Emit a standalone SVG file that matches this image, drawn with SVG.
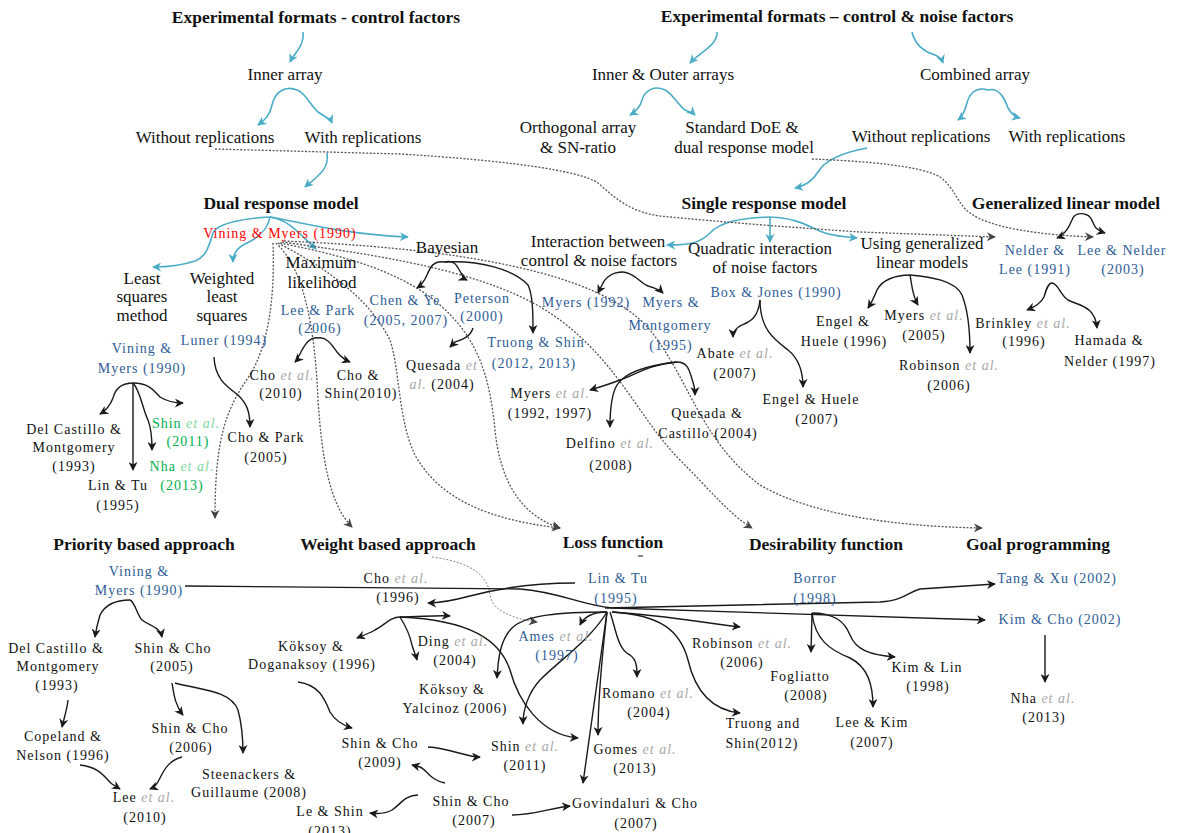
<svg xmlns="http://www.w3.org/2000/svg" width="1177" height="833" viewBox="0 0 1177 833">
<style>
text{font-family:"Liberation Serif","Times New Roman",serif;text-anchor:middle;fill:#111}
.h{font-weight:bold;font-size:17.5px}
.t{font-size:17px}
.c{font-size:14px;letter-spacing:1px}
.b{fill:#2E5C96}
.g{fill:#00B050}
.r{fill:#FF0000}
.e{fill:#A8A8A8;font-style:italic}
.eg{fill:#7FD8A0;font-style:italic}
.cy{stroke:#4BACC6;stroke-width:1.6;fill:none;marker-end:url(#ac)}
.bk{stroke:#1a1a1a;stroke-width:1.4;fill:none;marker-end:url(#ab)}
.dt{stroke:#555;stroke-width:1.3;stroke-dasharray:2 1.6;fill:none;marker-end:url(#ad)}
.dl{stroke:#888;stroke-width:1;stroke-dasharray:2 1.6;fill:none;marker-end:url(#ad)}
</style>
<defs>
<marker id="ac" viewBox="0 0 10 10" refX="9" refY="5" markerWidth="9" markerHeight="9" orient="auto" markerUnits="userSpaceOnUse"><path d="M0,0 L10,5 L0,10 L3,5 z" fill="#4BACC6"/></marker>
<marker id="ab" viewBox="0 0 10 10" refX="9" refY="5" markerWidth="9" markerHeight="9" orient="auto" markerUnits="userSpaceOnUse"><path d="M0,0 L10,5 L0,10 L3,5 z" fill="#1a1a1a"/></marker>
<marker id="ad" viewBox="0 0 10 10" refX="9" refY="5" markerWidth="9" markerHeight="9" orient="auto" markerUnits="userSpaceOnUse"><path d="M0,0 L10,5 L0,10 L3,5 z" fill="#444"/></marker>
</defs>
<rect width="1177" height="833" fill="#fff"/>

<g id="connectors">
<!-- cyan -->
<path class="cy" d="M303,32 C305,45 295,52 290,62"/>
<path class="cy" d="M297,90 C285,85 275,92 272,105 C270,115 265,120 258,125"/>
<path class="cy" d="M297,90 C305,92 310,105 318,112 C325,117 330,118 332,123"/>
<path class="cy" d="M327,153 C330,170 315,178 305,187"/>
<path class="cy" d="M717,32 C718,45 700,52 690,63"/>
<path class="cy" d="M665,90 C655,85 645,90 642,100 C640,108 635,112 630,115"/>
<path class="cy" d="M665,90 C672,93 678,105 685,110 C690,112 693,113 695,115"/>
<path class="cy" d="M912,32 C915,45 925,52 935,55 C940,57 942,60 943,63"/>
<path class="cy" d="M988,90 C975,86 969,95 967,103 C965,111 962,117 958,120"/>
<path class="cy" d="M988,90 C1000,87 1005,100 1008,108 C1012,115 1016,117 1020,118"/>
<path class="cy" d="M867,148 C845,152 825,160 818,172 C812,182 805,186 795,188"/>
<path class="cy" d="M270,217 C250,218 218,222 213,233 C208,250 205,257 195,261 C180,266 165,267 153,267"/>
<path class="cy" d="M270,217 C268,230 258,238 245,244 C237,248 233,255 233,262"/>
<path class="cy" d="M270,217 C290,220 300,235 316,249"/>
<path class="cy" d="M270,217 C300,222 340,234 408,237"/>
<path class="cy" d="M770,217 C740,218 720,222 710,233 C700,243 690,245 667,245"/>
<path class="cy" d="M770,217 L770,242"/>
<path class="cy" d="M770,217 C800,218 810,228 825,233 C835,236 845,237 857,238"/>
<!-- dotted -->
<path class="dt" d="M215,149 L400,154 C500,160 580,170 598,183 C615,198 630,212 660,216 C720,222 800,228 860,232 L995,237"/>
<path class="dt" d="M812,159 C860,161 920,165 940,177 C955,188 958,205 970,213 C990,228 1040,235 1093,237"/>
<path class="dt" d="M273,243 C275,300 268,345 250,375 C225,410 215,440 215,518"/>
<path class="dt" d="M276,243 C305,270 315,330 318,400 C322,460 330,505 352,527"/>
<path class="dt" d="M280,243 C340,255 400,270 440,305 C480,340 490,380 495,430 C500,480 520,515 560,528"/>
<path class="dt" d="M278,243 C330,270 370,300 390,340 C400,370 398,420 415,455 C440,500 490,520 560,528"/>
<path class="dt" d="M282,242 C400,258 500,275 560,320 C620,365 640,420 680,460 C710,490 730,515 752,528"/>
<path class="dt" d="M284,241 C450,248 600,270 650,330 C690,380 700,440 760,485 C820,520 920,527 982,528"/>
<path class="dl" d="M432,557 C470,562 488,575 490,595 C492,610 510,618 537,622"/>
<!-- black -->
<path class="bk" d="M1087,215 C1080,212 1074,214 1072,220 C1068,230 1062,236 1057,238"/>
<path class="bk" d="M1087,215 C1092,216 1093,225 1096,228 C1099,231 1102,232 1105,233"/>
<path class="bk" d="M1052,283 C1048,283 1046,290 1044,297 C1040,305 1032,308 1027,310"/>
<path class="bk" d="M1052,283 C1058,283 1060,295 1068,300 C1080,306 1095,306 1097,328"/>
<path class="bk" d="M910,275 C895,275 882,280 877,290 C873,300 870,305 868,308"/>
<path class="bk" d="M910,275 C912,285 912,295 918,305"/>
<path class="bk" d="M910,275 C930,277 955,280 962,295 C968,310 970,330 970,353"/>
<path class="bk" d="M623,272 C612,272 605,278 602,285 L598,293"/>
<path class="bk" d="M623,272 C635,273 640,283 648,286 C655,288 660,290 663,293"/>
<path class="bk" d="M760,300 C758,320 748,322 740,326 C735,329 733,333 733,337"/>
<path class="bk" d="M760,300 C760,330 775,340 788,350 C798,358 803,370 803,387"/>
<path class="bk" d="M677,362 C650,364 635,375 620,380 C610,384 600,387 590,390"/>
<path class="bk" d="M677,362 C650,365 625,372 617,385 C611,395 610,410 610,427"/>
<path class="bk" d="M677,362 C690,362 690,375 693,382 C695,388 695,392 695,395"/>
<path class="bk" d="M445,262 C433,260 430,268 427,275 C424,282 420,286 417,288"/>
<path class="bk" d="M445,262 C455,259 458,268 461,273 C463,277 465,279 467,280"/>
<path class="bk" d="M445,262 C480,260 515,270 528,285 C533,295 533,315 533,333"/>
<path class="bk" d="M473,328 C470,338 460,340 455,342 L450,347"/>
<path class="bk" d="M318,338 C310,336 305,345 302,350 C299,356 297,360 295,362"/>
<path class="bk" d="M318,338 C326,336 332,345 337,352 C341,357 345,360 350,362"/>
<path class="bk" d="M214,357 C215,380 228,387 238,395 C246,403 250,410 250,427"/>
<path class="bk" d="M133,383 C120,383 115,390 113,398 C110,406 105,411 100,414"/>
<path class="bk" d="M133,383 L133,470"/>
<path class="bk" d="M133,383 C140,390 143,410 148,420 C152,430 152,440 152,450"/>
<path class="bk" d="M133,383 C150,383 155,392 160,397 C168,402 175,403 183,403"/>
<path class="bk" d="M130,600 C115,600 105,605 100,615 C97,625 96,630 95,637"/>
<path class="bk" d="M130,600 C135,602 137,615 142,620 C150,626 160,627 162,637"/>
<path class="bk" d="M68,700 C67,710 64,718 62,727"/>
<path class="bk" d="M172,683 C174,695 175,705 183,715"/>
<path class="bk" d="M175,683 C200,690 230,690 238,710 C242,725 243,740 243,753"/>
<path class="bk" d="M80,765 C100,767 105,778 112,784 L120,789"/>
<path class="bk" d="M182,757 C170,760 165,768 160,778 C157,784 155,787 150,789"/>
<path class="bk" d="M185,586 L520,589 C560,592 580,605 612,608 L985,620"/>
<path class="bk" d="M605,608 L880,602 C905,600 908,592 920,589 L995,584"/>
<path class="bk" d="M575,583 C540,583 500,588 470,596 C455,600 440,603 428,603"/>
<path class="bk" d="M400,617 C390,617 385,625 375,630 C368,634 362,636 357,638"/>
<path class="bk" d="M400,617 C405,625 410,635 412,645 C414,652 416,656 417,660"/>
<path class="bk" d="M400,617 C420,617 437,615 450,616"/>
<path class="bk" d="M400,617 C470,620 500,640 510,670 C518,700 540,735 578,738"/>
<path class="bk" d="M607,612 C590,640 560,660 540,680 C528,693 523,710 523,724"/>
<path class="bk" d="M607,612 C595,612 585,615 580,625"/>
<path class="bk" d="M607,612 C560,612 525,615 512,628 C500,640 498,660 497,678"/>
<path class="bk" d="M607,612 L583,783"/>
<path class="bk" d="M607,612 C603,650 598,690 598,735"/>
<path class="bk" d="M610,612 C616,630 618,650 630,655 C637,660 637,668 637,677"/>
<path class="bk" d="M612,612 C660,615 700,622 740,627"/>
<path class="bk" d="M612,612 C660,615 680,630 688,660 C695,690 710,710 740,713"/>
<path class="bk" d="M812,613 L811,652"/>
<path class="bk" d="M812,613 C835,613 845,622 850,635 C856,650 870,655 895,657"/>
<path class="bk" d="M812,613 C815,640 830,650 850,658 C868,667 873,685 873,707"/>
<path class="bk" d="M1045,635 L1045,682"/>
<path class="bk" d="M298,682 C320,685 325,700 330,712 C336,722 345,726 352,728"/>
<path class="bk" d="M428,747 C450,748 465,757 480,757"/>
<path class="bk" d="M445,783 C430,780 427,770 420,767 L412,765"/>
<path class="bk" d="M418,795 C405,795 400,805 392,810 C385,814 378,814 370,813"/>
<path class="bk" d="M512,815 C535,815 550,808 570,806"/>
<line x1="638" y1="556" x2="643" y2="556" stroke="#333" stroke-width="1.2"/>
</g>

<g id="n-top-control"><text class="h" x="316" y="23">Experimental formats - control factors</text></g>
<g id="n-top-noise"><text class="h" x="837" y="22">Experimental formats – control &amp; noise factors</text></g>
<g id="n-inner"><text class="t" x="285" y="80">Inner array</text></g>
<g id="n-wo1"><text class="t" x="205" y="143">Without replications</text></g>
<g id="n-w1"><text class="t" x="363" y="143">With replications</text></g>
<g id="n-io"><text class="t" x="663" y="80">Inner &amp; Outer arrays</text></g>
<g id="n-ortho"><text class="t" x="578" y="133">Orthogonal array</text><text class="t" x="578" y="153">&amp; SN-ratio</text></g>
<g id="n-std"><text class="t" x="742" y="133">Standard DoE &amp;</text><text class="t" x="744" y="153">dual response model</text></g>
<g id="n-comb"><text class="t" x="975" y="80">Combined array</text></g>
<g id="n-wo2"><text class="t" x="921" y="142">Without replications</text></g>
<g id="n-w2"><text class="t" x="1067" y="142">With replications</text></g>
<g id="n-drm"><text class="h" x="281" y="209">Dual response model</text></g>
<g id="n-srm"><text class="h" x="764" y="209">Single response model</text></g>
<g id="n-glm"><text class="h" x="1066" y="209">Generalized linear model</text></g>
<g id="n-vm-red"><text class="c r" x="280" y="238">Vining &amp; Myers (1990)</text></g>
<g id="n-ls"><text class="t" x="142" y="284">Least</text><text class="t" x="142" y="302">squares</text><text class="t" x="142" y="321">method</text></g>
<g id="n-wls"><text class="t" x="222" y="284">Weighted</text><text class="t" x="222" y="302">least</text><text class="t" x="222" y="321">squares</text></g>
<g id="n-ml"><text class="t" x="321" y="268">Maximum</text><text class="t" x="322" y="288">likelihood</text></g>
<g id="n-bay"><text class="t" x="447" y="253">Bayesian</text></g>
<g id="n-int"><text class="t" x="598" y="247">Interaction between</text><text class="t" x="599" y="266">control &amp; noise factors</text></g>
<g id="n-quad"><text class="t" x="760" y="254">Quadratic interaction</text><text class="t" x="765" y="273">of noise factors</text></g>
<g id="n-ugl"><text class="t" x="922" y="249">Using generalized</text><text class="t" x="922" y="268">linear models</text></g>

<g id="n-vm1"><text class="c b" x="142" y="353">Vining &amp;</text><text class="c b" x="142" y="373">Myers (1990)</text></g>
<g id="n-luner"><text class="c b" x="224" y="345">Luner (1994)</text></g>
<g id="n-lp"><text class="c b" x="318" y="315">Lee &amp; Park</text><text class="c b" x="320" y="333">(2006)</text></g>
<g id="n-chen"><text class="c b" x="405" y="305">Chen &amp; Ye</text><text class="c b" x="406" y="325">(2005, 2007)</text></g>
<g id="n-pet"><text class="c b" x="482" y="303">Peterson</text><text class="c b" x="482" y="321">(2000)</text></g>
<g id="n-ques"><text class="c" x="442" y="370">Quesada <tspan class="e">et</tspan></text><text class="c" x="442" y="389"><tspan class="e">al.</tspan> (2004)</text></g>
<g id="n-truong"><text class="c b" x="536" y="347">Truong &amp; Shin</text><text class="c b" x="534" y="368">(2012, 2013)</text></g>
<g id="n-my92"><text class="c b" x="586" y="307">Myers (1992)</text></g>
<g id="n-mm"><text class="c b" x="671" y="307">Myers &amp;</text><text class="c b" x="670" y="330">Montgomery</text><text class="c b" x="671" y="350">(1995)</text></g>
<g id="n-box"><text class="c b" x="776" y="297">Box &amp; Jones (1990)</text></g>
<g id="n-abate"><text class="c" x="735" y="358">Abate <tspan class="e">et al.</tspan></text><text class="c" x="735" y="378">(2007)</text></g>
<g id="n-myetal"><text class="c" x="550" y="398">Myers <tspan class="e">et al.</tspan></text><text class="c" x="550" y="418">(1992, 1997)</text></g>
<g id="n-delfino"><text class="c" x="610" y="448">Delfino <tspan class="e">et al.</tspan></text><text class="c" x="611" y="470">(2008)</text></g>
<g id="n-qc"><text class="c" x="707" y="418">Quesada &amp;</text><text class="c" x="708" y="438">Castillo (2004)</text></g>
<g id="n-eh07"><text class="c" x="811" y="404">Engel &amp; Huele</text><text class="c" x="817" y="424">(2007)</text></g>
<g id="n-eh96"><text class="c" x="843" y="326">Engel &amp;</text><text class="c" x="844" y="346">Huele (1996)</text></g>
<g id="n-my05"><text class="c" x="924" y="320">Myers <tspan class="e">et al.</tspan></text><text class="c" x="924" y="340">(2005)</text></g>
<g id="n-rob06"><text class="c" x="949" y="370">Robinson <tspan class="e">et al.</tspan></text><text class="c" x="949" y="390">(2006)</text></g>
<g id="n-nl"><text class="c b" x="1035" y="255">Nelder &amp;</text><text class="c b" x="1035" y="274">Lee (1991)</text></g>
<g id="n-ln"><text class="c b" x="1122" y="255">Lee &amp; Nelder</text><text class="c b" x="1123" y="274">(2003)</text></g>
<g id="n-brink"><text class="c" x="1023" y="328">Brinkley <tspan class="e">et al.</tspan></text><text class="c" x="1024" y="346">(1996)</text></g>
<g id="n-hn"><text class="c" x="1109" y="345">Hamada &amp;</text><text class="c" x="1110" y="366">Nelder (1997)</text></g>
<g id="n-dcm1"><text class="c" x="74" y="434">Del Castillo &amp;</text><text class="c" x="74" y="452">Montgomery</text><text class="c" x="74" y="471">(1993)</text></g>
<g id="n-lt1"><text class="c" x="118" y="490">Lin &amp; Tu</text><text class="c" x="118" y="510">(1995)</text></g>
<g id="n-shin11g"><text class="c g" x="186" y="428">Shin <tspan class="eg">et al.</tspan></text><text class="c g" x="188" y="446">(2011)</text></g>
<g id="n-nha13g"><text class="c g" x="182" y="471">Nha <tspan class="eg">et al.</tspan></text><text class="c g" x="182" y="490">(2013)</text></g>
<g id="n-cp"><text class="c" x="266" y="442">Cho &amp; Park</text><text class="c" x="266" y="462">(2005)</text></g>
<g id="n-cho10"><text class="c" x="282" y="380">Cho <tspan class="e">et al.</tspan></text><text class="c" x="281" y="398">(2010)</text></g>
<g id="n-cs10"><text class="c" x="358" y="380">Cho &amp;</text><text class="c" x="361" y="398">Shin(2010)</text></g>

<g id="n-prio"><text class="h" x="144" y="550">Priority based approach</text></g>
<g id="n-weight"><text class="h" x="388" y="550">Weight based approach</text></g>
<g id="n-loss"><text class="h" x="613" y="548">Loss function</text></g>
<g id="n-desir"><text class="h" x="826" y="550">Desirability function</text></g>
<g id="n-goal"><text class="h" x="1038" y="550">Goal programming</text></g>

<g id="n-vm2"><text class="c b" x="139" y="576">Vining &amp;</text><text class="c b" x="139" y="595">Myers (1990)</text></g>
<g id="n-dcm2"><text class="c" x="56" y="653">Del Castillo &amp;</text><text class="c" x="58" y="671">Montgomery</text><text class="c" x="57" y="690">(1993)</text></g>
<g id="n-sc05"><text class="c" x="173" y="653">Shin &amp; Cho</text><text class="c" x="172" y="671">(2005)</text></g>
<g id="n-cop"><text class="c" x="63" y="741">Copeland &amp;</text><text class="c" x="63" y="760">Nelson (1996)</text></g>
<g id="n-sc06"><text class="c" x="190" y="733">Shin &amp; Cho</text><text class="c" x="191" y="752">(2006)</text></g>
<g id="n-lee10"><text class="c" x="144" y="802">Lee <tspan class="e">et al.</tspan></text><text class="c" x="145" y="822">(2010)</text></g>
<g id="n-steen"><text class="c" x="249" y="779">Steenackers &amp;</text><text class="c" x="249" y="797">Guillaume (2008)</text></g>
<g id="n-cho96"><text class="c" x="396" y="583">Cho <tspan class="e">et al.</tspan></text><text class="c" x="398" y="602">(1996)</text></g>
<g id="n-kd"><text class="c" x="311" y="651">Köksoy &amp;</text><text class="c" x="312" y="669">Doganaksoy (1996)</text></g>
<g id="n-sc09"><text class="c" x="380" y="748">Shin &amp; Cho</text><text class="c" x="380" y="767">(2009)</text></g>
<g id="n-ding"><text class="c" x="453" y="646">Ding <tspan class="e">et al.</tspan></text><text class="c" x="455" y="665">(2004)</text></g>
<g id="n-ky"><text class="c" x="452" y="694">Köksoy &amp;</text><text class="c" x="455" y="713">Yalcinoz (2006)</text></g>
<g id="n-lt2"><text class="c b" x="618" y="583">Lin &amp; Tu</text><text class="c b" x="616" y="603">(1995)</text></g>
<g id="n-ames"><text class="c b" x="556" y="641">Ames <tspan class="e">et al.</tspan></text><text class="c b" x="557" y="660">(1997)</text></g>
<g id="n-shin11"><text class="c" x="525" y="751">Shin <tspan class="e">et al.</tspan></text><text class="c" x="525" y="770">(2011)</text></g>
<g id="n-sc07"><text class="c" x="471" y="806">Shin &amp; Cho</text><text class="c" x="474" y="825">(2007)</text></g>
<g id="n-les"><text class="c" x="330" y="816">Le &amp; Shin</text><text class="c" x="330" y="836">(2013)</text></g>
<g id="n-gov"><text class="c" x="635" y="808">Govindaluri &amp; Cho</text><text class="c" x="636" y="828">(2007)</text></g>
<g id="n-rom"><text class="c" x="648" y="698">Romano <tspan class="e">et al.</tspan></text><text class="c" x="649" y="717">(2004)</text></g>
<g id="n-gomes"><text class="c" x="635" y="754">Gomes <tspan class="e">et al.</tspan></text><text class="c" x="635" y="773">(2013)</text></g>
<g id="n-rob06b"><text class="c" x="742" y="648">Robinson <tspan class="e">et al.</tspan></text><text class="c" x="742" y="667">(2006)</text></g>
<g id="n-ts12"><text class="c" x="763" y="728">Truong and</text><text class="c" x="762" y="748">Shin(2012)</text></g>
<g id="n-borror"><text class="c b" x="815" y="583">Borror</text><text class="c b" x="815" y="603">(1998)</text></g>
<g id="n-fog"><text class="c" x="800" y="681">Fogliatto</text><text class="c" x="806" y="700">(2008)</text></g>
<g id="n-kl"><text class="c" x="927" y="672">Kim &amp; Lin</text><text class="c" x="928" y="691">(1998)</text></g>
<g id="n-lk"><text class="c" x="872" y="727">Lee &amp; Kim</text><text class="c" x="872" y="747">(2007)</text></g>
<g id="n-tx"><text class="c b" x="1057" y="583">Tang &amp; Xu (2002)</text></g>
<g id="n-kc"><text class="c b" x="1060" y="624">Kim &amp; Cho (2002)</text></g>
<g id="n-nha13"><text class="c" x="1043" y="703">Nha <tspan class="e">et al.</tspan></text><text class="c" x="1044" y="722">(2013)</text></g>
</svg>
